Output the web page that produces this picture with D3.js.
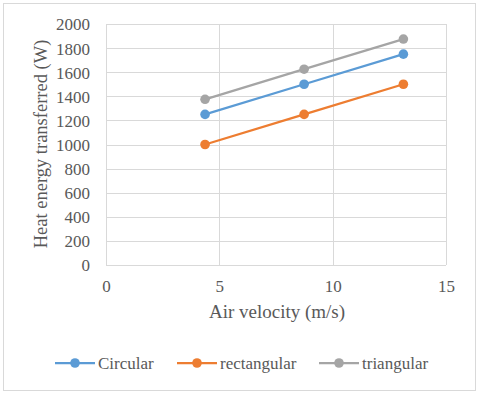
<!DOCTYPE html>
<html>
<head>
<meta charset="utf-8">
<script src="https://cdn.jsdelivr.net/npm/d3@7"></script>
<style>
  body { margin: 0; background: #fff; }
</style>
</head>
<body>
<div id="chart-area"></div>
<script>
// data
var velocity = [4.37, 8.74, 13.12];
var circular = [1250, 1500, 1750];
var rectangular = [1000, 1250, 1500];
var triangular = [1375, 1625, 1875];
var seriesNames = ["Circular", "rectangular", "triangular"];
var seriesColors = ["#5b9bd5", "#ed7d31", "#a5a5a5"];
var xTicks = [0, 5, 10, 15];
var yTicks = [0, 200, 400, 600, 800, 1000, 1200, 1400, 1600, 1800, 2000];

var series = [circular, rectangular, triangular];
var serif = "Liberation Serif";
var textColor = "#595959";

var svg = d3.select("#chart-area").append("svg")
  .attr("width", 480)
  .attr("height", 394)
  .attr("font-family", serif);

// outer frame
svg.append("rect").attr("x", 3.5).attr("y", 3.5).attr("width", 472).attr("height", 387)
  .attr("fill", "#fff").attr("stroke", "#d9d9d9").attr("stroke-width", 1);

var x = d3.scaleLinear().domain([0, 15]).range([106, 446]);
var y = d3.scaleLinear().domain([0, 2000]).range([265, 24]);

// gridlines
svg.append("g").selectAll("line").data(yTicks).enter().append("line")
  .attr("x1", x(0)).attr("x2", x(15))
  .attr("y1", function(d) { return Math.round(y(d)) + 0.5; })
  .attr("y2", function(d) { return Math.round(y(d)) + 0.5; })
  .attr("stroke", "#d9d9d9").attr("stroke-width", 1);
svg.append("g").selectAll("line").data(xTicks).enter().append("line")
  .attr("y1", y(0)).attr("y2", y(2000))
  .attr("x1", function(d) { return Math.round(x(d)) + 0.5; })
  .attr("x2", function(d) { return Math.round(x(d)) + 0.5; })
  .attr("stroke", "#d9d9d9").attr("stroke-width", 1);

// axes
var yAxis = svg.append("g").attr("transform", "translate(" + (x(0) - 16) + ",0)")
  .call(d3.axisLeft(y).tickValues(yTicks).tickFormat(d3.format("d")).tickSize(0).tickPadding(0));
yAxis.attr("font-family", serif).attr("font-size", 17);
yAxis.select(".domain").remove();
yAxis.selectAll("text").attr("dy", "0.35em").attr("fill", textColor);

var xAxis = svg.append("g").attr("transform", "translate(0," + (y(0) + 21) + ")")
  .call(d3.axisBottom(x).tickValues(xTicks).tickFormat(d3.format("d")).tickSize(0).tickPadding(0));
xAxis.attr("font-family", serif).attr("font-size", 17);
xAxis.select(".domain").remove();
xAxis.selectAll("text").attr("dy", "0.35em").attr("fill", textColor);

// axis titles
svg.append("text").attr("x", 277).attr("y", 318).attr("text-anchor", "middle")
  .attr("fill", textColor).attr("font-size", 19)
  .text("Air velocity (m/s)");
svg.append("text").attr("transform", "translate(47,144) rotate(-90)")
  .attr("text-anchor", "middle").attr("fill", textColor).attr("font-size", 18.5)
  .text("Heat energy transferred (W)");

// lines
var line = d3.line()
  .x(function(d, i) { return x(velocity[i]); })
  .y(function(d) { return y(d); });

series.forEach(function(s, k) {
  svg.append("path").attr("d", line(s)).attr("fill", "none")
    .attr("stroke", seriesColors[k]).attr("stroke-width", 2.25);
  svg.append("g").selectAll("circle").data(s).enter().append("circle")
    .attr("cx", function(d, i) { return x(velocity[i]); })
    .attr("cy", function(d) { return y(d); })
    .attr("r", 4.8).attr("fill", seriesColors[k]);
});

// legend
var legendX = [55, 177, 319];
var legendY = 363;
seriesNames.forEach(function(name, k) {
  var g = svg.append("g").attr("transform", "translate(" + legendX[k] + "," + legendY + ")");
  g.append("line").attr("x1", 0).attr("x2", 40).attr("y1", 0).attr("y2", 0)
    .attr("stroke", seriesColors[k]).attr("stroke-width", 2.25);
  g.append("circle").attr("cx", 20).attr("cy", 0).attr("r", 4.8).attr("fill", seriesColors[k]);
  g.append("text").attr("x", 43).attr("y", 0).attr("dy", "0.35em").attr("fill", textColor)
    .attr("font-size", 17).text(name);
});
</script>
</body>
</html>
